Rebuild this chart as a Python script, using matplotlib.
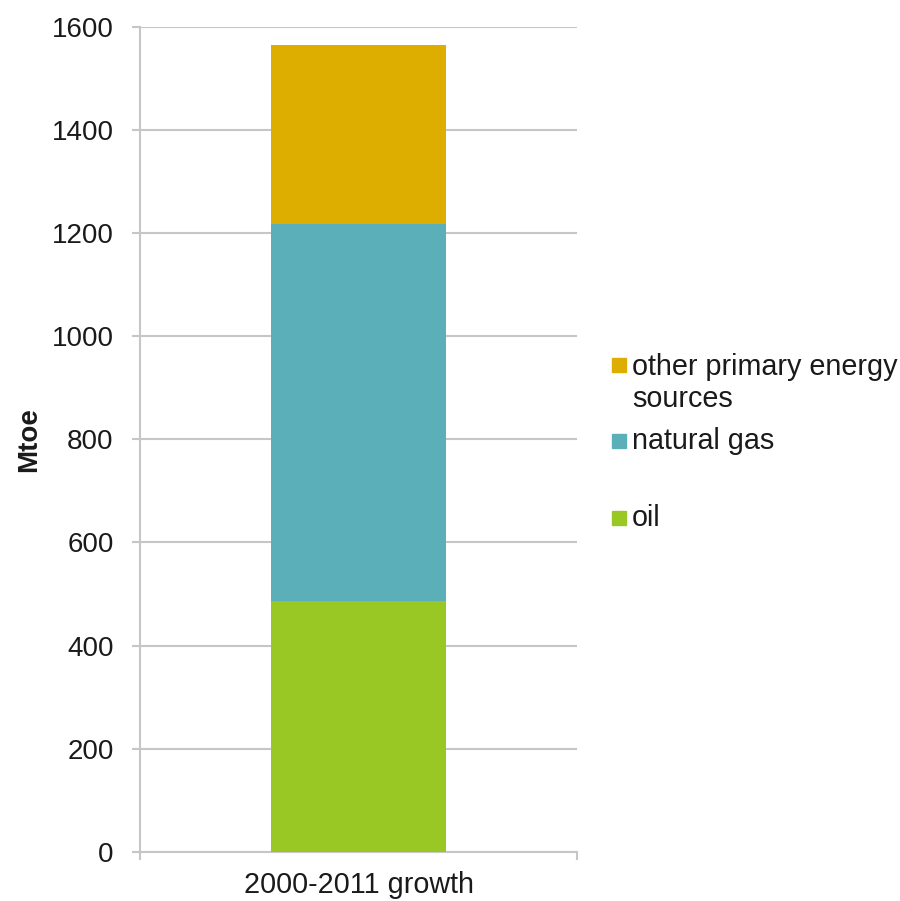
"""
# Stacked bar: growth of primary energy sources 2000-2011
"""

import numpy as np
import matplotlib
matplotlib.use('Agg')
import matplotlib.pyplot as plt
from matplotlib.patches import Rectangle

### Data
categories= ['2000-2011 growth']
series_names= ['oil','natural gas','other primary energy\nsources']
oil= [486]
natural_gas= [731]
other= [348]
colors= ['#99C724','#5AAFB8','#DDAE00']
yticks= [0,200,400,600,800,1000,1200,1400,1600]

def main():
    plt.rcParams['font.family']= ['Liberation Sans','DejaVu Sans']

    fig= plt.figure()
    fig.set_size_inches(9.0,9.01)

    ax= fig.add_axes([0.1556,0.0544,0.4856,0.916])

    xx= np.arange(len(categories))
    bottom= np.zeros(len(categories))
    for vals,col in zip([oil,natural_gas,other],colors):
        ax.bar(xx,vals,width=0.4,bottom=bottom,color=col,zorder=3)
        bottom= bottom+np.asarray(vals)

    ax.set_xlim(-0.5,len(categories)-0.5)
    ax.set_ylim(0,1600)
    ax.set_yticks(yticks)
    ax.set_yticklabels([str(v) for v in yticks])
    ax.set_xticks(xx)
    ax.set_xticklabels(categories)
    ax.set_xticks(np.arange(len(categories)+1)-0.5,minor=True)

    gcol= '#C6C6C6'
    ax.grid(axis='y',color=gcol,lw=1.5,zorder=0)
    for s in ['top','right']:
        ax.spines[s].set_visible(False)
    for s in ['left','bottom']:
        ax.spines[s].set_color(gcol)
        ax.spines[s].set_linewidth(1.5)

    ax.tick_params(axis='y',which='major',length=6,width=1.5,color=gcol,
                   labelsize=20,pad=13,labelcolor='#1a1a1a')
    ax.tick_params(axis='x',which='major',length=0,labelsize=20.7,pad=14,labelcolor='#1a1a1a')
    ax.tick_params(axis='x',which='minor',length=6,width=1.5,color=gcol)

    fig.text(29.5/900,1-440/901,'Mtoe',rotation=90,ha='center',va='center',
             fontsize=20,fontweight='bold',color='#1a1a1a')

    ### Legend (Excel-style, reversed order)
    sq_y= [365,441,518]
    txt_y= [383,441,518]
    for name,col,ys,yt in zip(series_names[::-1],colors[::-1],sq_y,txt_y):
        fig.patches.append(Rectangle((612/900,1-(ys+7)/901),14/900,14/901,
                                     transform=fig.transFigure,color=col,figure=fig))
        fig.text(632/900,1-yt/901,name,ha='left',va='center',
                 fontsize=20.7,color='#1a1a1a',linespacing=1.18)

    fnout= 'out.png'
    plt.savefig(fnout,dpi=100)
    print(fnout)
    return

if __name__=='__main__':
    main()
